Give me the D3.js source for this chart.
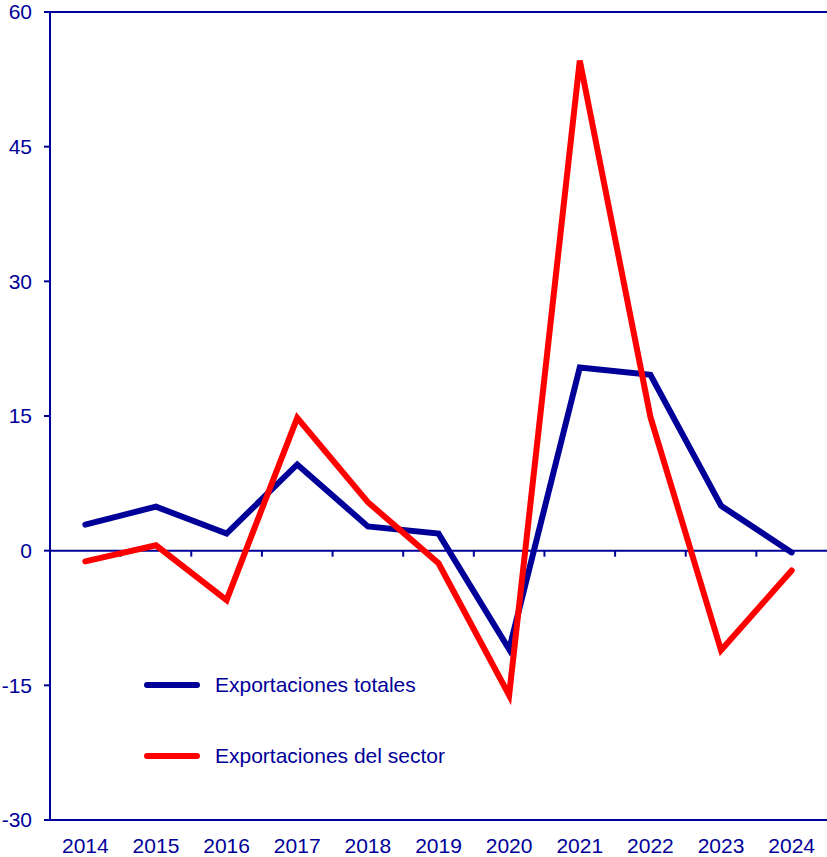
<!DOCTYPE html>
<html lang="es">
<head>
<meta charset="utf-8">
<title>Exportaciones</title>
<script src="https://cdnjs.cloudflare.com/ajax/libs/d3/7.8.5/d3.min.js"></script>
<style>
  body { margin: 0; background: #fff; }
  svg text { font-family: "Liberation Sans", Arial, sans-serif; fill: #000099; }
</style>
</head>
<body>
<script>
// datos
var years = ["2014","2015","2016","2017","2018","2019","2020","2021","2022","2023","2024"];
var totales = [2.9, 4.9, 1.9, 9.6, 2.7, 1.9, -11.0, 20.4, 19.6, 5.0, -0.2];
var sector = [-1.2, 0.6, -5.5, 14.8, 5.4, -1.4, -16.1, 54.6, 14.9, -11.1, -2.2];
var yTicks = [-30, -15, 0, 15, 30, 45, 60];
var seriesNames = ["Exportaciones totales", "Exportaciones del sector"];

var w = 827, h = 857;
var mLeft = 50, mRight = 827, mTop = 12, mBottom = 820;
var axisColor = "#000099";
var fontSize = 21;

var svg = d3.select("body").append("svg")
  .attr("width", w)
  .attr("height", h);

var x = d3.scaleBand().domain(years).range([mLeft, mRight]);
var y = d3.scaleLinear().domain([-30, 60]).range([mBottom, mTop]);

// eje y
svg.append("line")
  .attr("x1", mLeft).attr("x2", mLeft)
  .attr("y1", mTop).attr("y2", mBottom)
  .attr("stroke", axisColor).attr("stroke-width", 2);

svg.selectAll(".ytick").data(yTicks).enter().append("line")
  .attr("x1", mLeft - 6).attr("x2", mLeft)
  .attr("y1", function(d) { return y(d); })
  .attr("y2", function(d) { return y(d); })
  .attr("stroke", axisColor).attr("stroke-width", 2);

svg.selectAll(".ylab").data(yTicks).enter().append("text")
  .attr("x", 32)
  .attr("y", function(d) { return y(d); })
  .attr("dy", "0.35em")
  .attr("text-anchor", "end")
  .attr("font-size", fontSize)
  .text(function(d) { return d; });

// borde superior e inferior
[60, -30].forEach(function(v) {
  svg.append("line")
    .attr("x1", mLeft).attr("x2", mRight)
    .attr("y1", y(v)).attr("y2", y(v))
    .attr("stroke", axisColor).attr("stroke-width", 2);
});

// linea del cero con marcas entre categorias
svg.append("line")
  .attr("x1", mLeft).attr("x2", mRight)
  .attr("y1", y(0)).attr("y2", y(0))
  .attr("stroke", axisColor).attr("stroke-width", 2);

svg.selectAll(".xtick").data(years.slice(1)).enter().append("line")
  .attr("x1", function(d) { return x(d); })
  .attr("x2", function(d) { return x(d); })
  .attr("y1", y(0)).attr("y2", y(0) + 6)
  .attr("stroke", axisColor).attr("stroke-width", 2);

svg.selectAll(".xlab").data(years).enter().append("text")
  .attr("x", function(d) { return x(d) + x.bandwidth() / 2; })
  .attr("y", 853)
  .attr("text-anchor", "middle")
  .attr("font-size", fontSize)
  .text(function(d) { return d; });

var line = d3.line()
  .x(function(d, i) { return x(years[i]) + x.bandwidth() / 2; })
  .y(function(d) { return y(d); });

var colors = ["#000099", "#ff0000"];
[totales, sector].forEach(function(s, k) {
  svg.append("path")
    .datum(s)
    .attr("d", line)
    .attr("fill", "none")
    .attr("stroke", colors[k])
    .attr("stroke-width", 6)
    .attr("stroke-linejoin", "miter")
    .attr("stroke-linecap", "round");
});

// leyenda
var legendY = [685, 756];
seriesNames.forEach(function(n, k) {
  svg.append("line")
    .attr("x1", 147).attr("x2", 197)
    .attr("y1", legendY[k]).attr("y2", legendY[k])
    .attr("stroke", colors[k]).attr("stroke-width", 6)
    .attr("stroke-linecap", "round");
  svg.append("text")
    .attr("x", 215).attr("y", legendY[k])
    .attr("dy", "0.35em")
    .attr("font-size", fontSize)
    .text(n);
});
</script>
</body>
</html>
